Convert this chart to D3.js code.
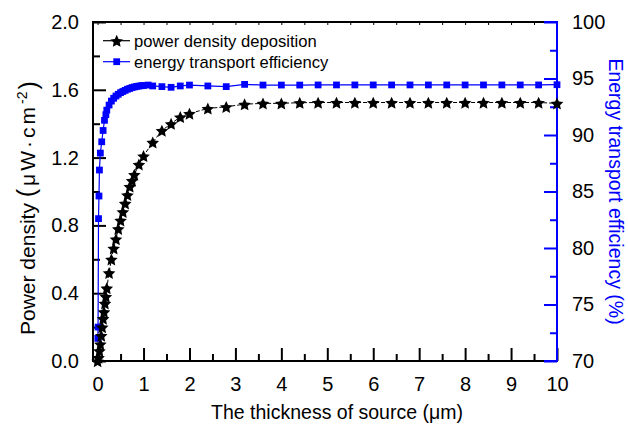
<!DOCTYPE html>
<html><head><meta charset="utf-8">
<script src="https://cdn.jsdelivr.net/npm/d3@7"></script>
<style>
body{margin:0;background:#fff}
svg{display:block}
text{font-family:"Liberation Sans",Arial,Helvetica,sans-serif}
</style>
</head><body>
<svg id="chart" width="628" height="425"></svg>
<script>
// ---- data ----
const thicknessPD = [0,0.02,0.04,0.06,0.08,0.1,0.12,0.14,0.16,0.18,0.2,0.25,0.3,0.35,0.4,0.45,0.5,0.55,0.6,0.65,0.7,0.75,0.8,0.9,1.0,1.2,1.4,1.6,1.8,2.0,2.4,2.8,3.2,3.6,4.0,4.4,4.8,5.2,5.6,6.0,6.4,6.8,7.2,7.6,8.0,8.4,8.8,9.2,9.6,10.0];
const powerDensity = [0.0,0.02,0.06,0.10,0.15,0.20,0.25,0.29,0.34,0.38,0.43,0.52,0.60,0.665,0.72,0.78,0.83,0.88,0.93,0.98,1.03,1.065,1.10,1.16,1.21,1.29,1.36,1.40,1.44,1.46,1.49,1.50,1.515,1.52,1.52,1.524,1.525,1.525,1.525,1.525,1.525,1.525,1.525,1.525,1.525,1.525,1.525,1.525,1.525,1.52];
const thicknessETE = [0.005,0.01,0.02,0.03,0.04,0.06,0.09,0.12,0.15,0.18,0.2,0.25,0.3,0.35,0.4,0.45,0.5,0.55,0.6,0.65,0.7,0.75,0.8,0.85,0.9,0.95,1.0,1.1,1.2,1.4,1.6,1.8,2.0,2.4,2.8,3.2,3.6,4.0,4.4,4.8,5.2,5.6,6.0,6.4,6.8,7.2,7.6,8.0,8.4,8.8,9.2,9.6,10.0];
const efficiency = [72.0,73.0,82.6,84.6,86.9,88.4,89.4,90.4,91.3,91.8,92.2,92.65,93.0,93.25,93.45,93.6,93.75,93.85,93.95,94.05,94.12,94.2,94.25,94.3,94.33,94.36,94.38,94.42,94.34,94.28,94.22,94.34,94.42,94.34,94.28,94.48,94.42,94.42,94.42,94.43,94.43,94.43,94.43,94.43,94.43,94.43,94.43,94.43,94.43,94.43,94.43,94.43,94.45];
const xTicks = [0,1,2,3,4,5,6,7,8,9,10];
const xMinorTicks = [0.5,1.5,2.5,3.5,4.5,5.5,6.5,7.5,8.5,9.5];
const yLeftTicks = [0.0,0.4,0.8,1.2,1.6,2.0];
const yLeftMinor = [0.2,0.6,1.0,1.4,1.8];
const yRightTicks = [70,75,80,85,90,95,100];
const yRightMinor = [72.5,77.5,82.5,87.5,92.5,97.5];
const seriesNames = ["power density deposition","energy transport efficiency"];

// ---- layout ----
const L = 93, R = 557, T = 22, B = 361;
const BLUE = "#0000ff";
const svg = d3.select("#chart");
const x = d3.scaleLinear().domain([-0.1, 10]).range([L, R]);
const yL = d3.scaleLinear().domain([0, 2]).range([B, T]);
const yR = d3.scaleLinear().domain([70, 100]).range([B, T]);

const fs = 20;
function styleAxis(g, color){
  g.select(".domain").remove();
  g.selectAll(".tick line").attr("stroke", color).attr("stroke-width", 2);
  g.selectAll(".tick text").attr("fill", "#000").style("font-size", fs+"px")
    .style("font-family", '"Liberation Sans",Arial,sans-serif');
}

// bottom axis
const gx = svg.append("g").attr("transform", `translate(0,${B})`)
  .call(d3.axisBottom(x).tickValues(xTicks).tickFormat(d3.format("d")).tickSize(-13).tickPadding(16));
styleAxis(gx, "#000");
const gxm = svg.append("g").attr("transform", `translate(0,${B})`)
  .call(d3.axisBottom(x).tickValues(xMinorTicks).tickFormat("").tickSize(-7));
styleAxis(gxm, "#000");
// top axis (short mirror ticks)
const gt = svg.append("g").attr("transform", `translate(0,${T})`)
  .call(d3.axisTop(x).tickValues(xTicks.concat(xMinorTicks)).tickFormat("").tickSize(-3));
styleAxis(gt, "#000");
gt.selectAll(".tick line").attr("stroke-width", 1);

// left axis
const gl = svg.append("g").attr("transform", `translate(${L},0)`)
  .call(d3.axisLeft(yL).tickValues(yLeftTicks).tickFormat(d3.format(".1f")).tickSize(-13).tickPadding(14));
styleAxis(gl, "#000");
const glm = svg.append("g").attr("transform", `translate(${L},0)`)
  .call(d3.axisLeft(yL).tickValues(yLeftMinor).tickFormat("").tickSize(-7));
styleAxis(glm, "#000");

// right axis
const gr = svg.append("g").attr("transform", `translate(${R},0)`)
  .call(d3.axisRight(yR).tickValues(yRightTicks).tickFormat(d3.format("d")).tickSize(-13).tickPadding(15));
styleAxis(gr, BLUE);
const grm = svg.append("g").attr("transform", `translate(${R},0)`)
  .call(d3.axisRight(yR).tickValues(yRightMinor).tickFormat("").tickSize(-7));
styleAxis(grm, BLUE);

// frame lines
svg.append("line").attr("x1", L).attr("x2", R).attr("y1", B).attr("y2", B).attr("stroke", "#000").attr("stroke-width", 2);
svg.append("line").attr("x1", L).attr("x2", R).attr("y1", T).attr("y2", T).attr("stroke", "#000").attr("stroke-width", 2);
svg.append("line").attr("x1", L).attr("x2", L).attr("y1", T-1).attr("y2", B+1).attr("stroke", "#000").attr("stroke-width", 2);
svg.append("line").attr("x1", R).attr("x2", R).attr("y1", T-1).attr("y2", B+1).attr("stroke", BLUE).attr("stroke-width", 2);
svg.append("line").attr("x1", R-13).attr("x2", R).attr("y1", yR(100)).attr("y2", yR(100)).attr("stroke", BLUE).attr("stroke-width", 2);
svg.append("line").attr("x1", R-13).attr("x2", R).attr("y1", yR(70)).attr("y2", yR(70)).attr("stroke", BLUE).attr("stroke-width", 2);

// ---- series ----
const pd = thicknessPD.map((t,i)=>({t, v: powerDensity[i]}));
const ete = thicknessETE.map((t,i)=>({t, v: efficiency[i]}));

const plot = svg.append("g");
plot.append("path").datum(ete)
  .attr("d", d3.line().x(d=>x(d.t)).y(d=>yR(d.v)))
  .attr("fill","none").attr("stroke", BLUE).attr("stroke-width", 1.2);
plot.append("path").datum(pd)
  .attr("d", d3.line().x(d=>x(d.t)).y(d=>yL(d.v)))
  .attr("fill","none").attr("stroke", "#000").attr("stroke-width", 1).attr("stroke-dasharray","4,2");

// fatter five-pointed star like the reference
const fatStar = {draw(ctx, size){
  const ro = Math.sqrt(size), ri = ro*0.48;
  for (let k=0;k<10;k++){
    const a = -Math.PI/2 + k*Math.PI/5, r = k%2 ? ri : ro;
    const px = r*Math.cos(a), py = r*Math.sin(a);
    k ? ctx.lineTo(px,py) : ctx.moveTo(px,py);
  }
  ctx.closePath();
}};
const sq = d3.symbol().type(d3.symbolSquare).size(46);
const star = d3.symbol().type(fatStar).size(44);
plot.selectAll(".sq").data(ete).enter().append("path")
  .attr("d", sq).attr("transform", d=>`translate(${x(d.t)},${yR(d.v)})`).attr("fill", BLUE);
plot.selectAll(".st").data(pd).enter().append("path")
  .attr("d", star).attr("transform", d=>`translate(${x(d.t)},${yL(d.v)+0.8})`).attr("fill", "#000");

// ---- legend ----
const lg = svg.append("g");
const legY = [40.7, 61.7];
lg.append("line").attr("x1",103).attr("x2",130).attr("y1",legY[0]).attr("y2",legY[0]).attr("stroke","#000").attr("stroke-width",1.2);
lg.append("path").attr("d", star).attr("transform", `translate(116.7,${legY[0]+0.8})`).attr("fill","#000");
lg.append("text").attr("x",134).attr("y",legY[0]+6.5).style("font-size","16.6px").text(seriesNames[0]);
lg.append("line").attr("x1",103).attr("x2",130).attr("y1",legY[1]).attr("y2",legY[1]).attr("stroke",BLUE).attr("stroke-width",1.2);
lg.append("path").attr("d", sq).attr("transform", `translate(116.7,${legY[1]})`).attr("fill",BLUE);
lg.append("text").attr("x",134).attr("y",legY[1]+6.5).style("font-size","16.6px").text(seriesNames[1]);

// ---- axis titles ----
svg.append("text").attr("x", 337).attr("y", 419).attr("text-anchor","middle")
  .style("font-size","19.5px").text("The thickness of source (μm)");

const lt = svg.append("text").attr("transform","translate(35,335) rotate(-90)").attr("text-anchor","start")
  .style("font-size","21px");
lt.append("tspan").text("Power density ");
lt.append("tspan").style("font-size","25px").style("letter-spacing","3px").text("(");
lt.append("tspan").style("letter-spacing","3px").text("μW·cm");
lt.append("tspan").attr("dy","-0.55em").style("font-size","14px").text("-2");
lt.append("tspan").attr("dy","0.4em").attr("dx","2").style("font-size","25px").text(")");

svg.append("text").attr("transform","translate(609,191.5) rotate(90)").attr("text-anchor","middle")
  .attr("fill", BLUE).style("font-size","19.5px").text("Energy transport efficiency (%)");
</script>
</body></html>
